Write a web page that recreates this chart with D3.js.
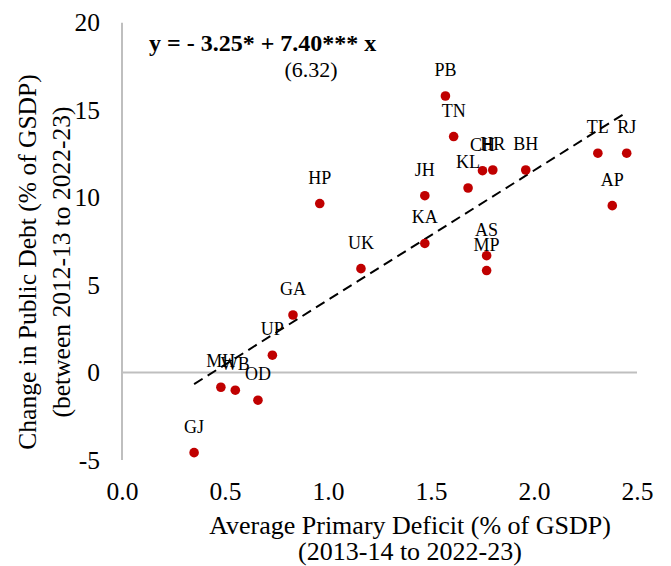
<!DOCTYPE html>
<html>
<head>
<meta charset="utf-8">
<script src="https://cdn.jsdelivr.net/npm/d3@7/dist/d3.min.js"></script>
<style>
  html, body { margin: 0; padding: 0; background: #fff; }
  svg { display: block; font-family: "Liberation Serif", "Times New Roman", serif; }
</style>
</head>
<body>
<svg id="chart" width="671" height="566"></svg>
<script>
// State codes with average primary deficit and change in public debt (% of GSDP)
const states = ["GJ","MH","WB","OD","UP","GA","HP","UK","JH","KA","PB","TN","KL","CH","HR","AS","MP","BH","TL","RJ","AP"];
const primaryDeficit = [0.35,0.48,0.55,0.66,0.73,0.83,0.96,1.16,1.47,1.47,1.57,1.61,1.68,1.75,1.80,1.77,1.77,1.96,2.31,2.45,2.38];
const debtChange = [-4.58,-0.84,-1.01,-1.58,0.99,3.29,9.66,5.94,10.11,7.38,15.81,13.49,10.55,11.54,11.58,6.68,5.83,11.58,12.54,12.54,9.54];

const xTicks = [0, 0.5, 1.0, 1.5, 2.0, 2.5];
const yTicks = [-5, 0, 5, 10, 15, 20];

// Fitted regression: y = a + b x
const intercept = -3.25;
const slope = 7.40;
const fitLabel = "y = - 3.25* + 7.40*** x";
const tStatLabel = "(6.32)";

const xTitle = ["Average Primary Deficit (% of GSDP)", "(2013-14 to 2022-23)"];
const yTitle = ["Change in Public Debt (% of GSDP)", "(between 2012-13 to 2022-23)"];

const svg = d3.select("#chart");

const x = d3.scaleLinear().domain([0, 2.5]).range([122, 637]);
const y = d3.scaleLinear().domain([-5, 20]).range([460, 22.7]);

const gray = "#bfbfbf";
const red = "#c00000";

// Vertical axis line at x = 0
svg.append("line")
  .attr("x1", x(0)).attr("x2", x(0))
  .attr("y1", y(20)).attr("y2", y(-5))
  .attr("stroke", gray).attr("stroke-width", 2);

// Horizontal axis line at y = 0
svg.append("line")
  .attr("x1", x(0)).attr("x2", x(2.5))
  .attr("y1", y(0)).attr("y2", y(0))
  .attr("stroke", gray).attr("stroke-width", 2);

// Tick labels (x labels sit below the plot)
const xAxis = svg.append("g")
  .attr("transform", `translate(0,${y(-5)})`)
  .call(d3.axisBottom(x).tickValues(xTicks).tickFormat(d3.format(".1f")).tickSize(0).tickPadding(22));
const yAxis = svg.append("g")
  .attr("transform", `translate(${x(0)},0)`)
  .call(d3.axisLeft(y).tickValues(yTicks).tickFormat(d => d3.format("d")(d).replace("−", "-")).tickSize(0).tickPadding(22));

[xAxis, yAxis].forEach(g => {
  g.select(".domain").remove();
  g.selectAll("text")
    .attr("fill", "#000")
    .style("font-family", '"Liberation Serif", "Times New Roman", serif')
    .style("font-size", "25.5px");
});

// Regression line over the data range
const xMin = d3.min(primaryDeficit), xMax = d3.max(primaryDeficit);
svg.append("line")
  .attr("x1", x(xMin)).attr("y1", y(intercept + slope * xMin))
  .attr("x2", x(xMax)).attr("y2", y(intercept + slope * xMax))
  .attr("stroke", "#000").attr("stroke-width", 2)
  .attr("stroke-dasharray", "10,6");

// Points
svg.append("g").selectAll("circle")
  .data(states)
  .join("circle")
  .attr("cx", (d, i) => x(primaryDeficit[i]))
  .attr("cy", (d, i) => y(debtChange[i]))
  .attr("r", 4.8)
  .attr("fill", red);

// Point labels above each marker
svg.append("g").selectAll("text")
  .data(states)
  .join("text")
  .attr("x", (d, i) => x(primaryDeficit[i]))
  .attr("y", (d, i) => y(debtChange[i]) - 20)
  .attr("text-anchor", "middle")
  .attr("font-size", 18)
  .attr("fill", "#000")
  .text(d => d);

// Regression equation
svg.append("text")
  .attr("x", 149).attr("y", 51)
  .attr("font-size", 24).attr("font-weight", "bold")
  .text(fitLabel);
svg.append("text")
  .attr("x", 311).attr("y", 77)
  .attr("text-anchor", "middle")
  .attr("font-size", 22)
  .text(tStatLabel);

// Axis titles
svg.append("g").selectAll("text")
  .data(xTitle)
  .join("text")
  .attr("x", 410)
  .attr("y", (d, i) => 534 + i * 26)
  .attr("text-anchor", "middle")
  .attr("font-size", 26)
  .text(d => d);

svg.append("g").selectAll("text")
  .data(yTitle)
  .join("text")
  .attr("transform", (d, i) => `translate(${36 + i * 34},262) rotate(-90)`)
  .attr("text-anchor", "middle")
  .attr("font-size", 25.5)
  .text(d => d);
</script>
</body>
</html>
